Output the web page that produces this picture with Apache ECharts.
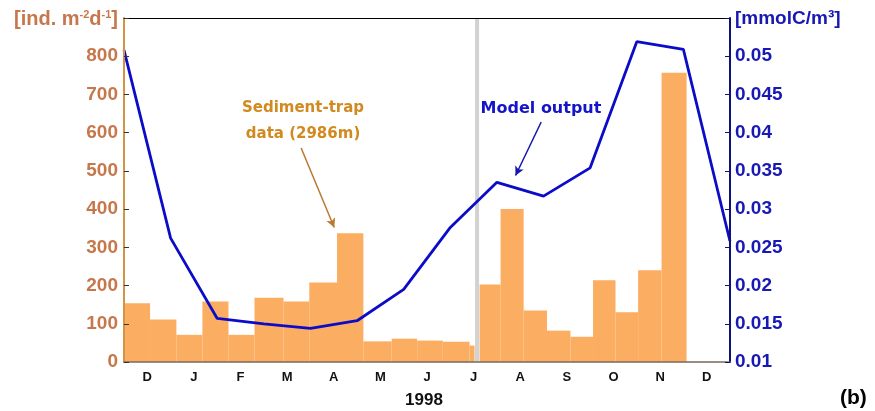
<!DOCTYPE html>
<html><head><meta charset="utf-8">
<script src="https://cdn.jsdelivr.net/npm/echarts@6/dist/echarts.min.js"></script>
<style>html,body{margin:0;padding:0;background:#fff}#c{width:875px;height:411px}</style>
</head><body><div id="c"></div>
<script>
// Month labels (Dec 1997 .. Dec 1998), one per month band
const monthLabels = ['D','J','F','M','A','M','J','J','A','S','O','N','D'];
// Sediment-trap sampling intervals (in months from 1 Dec 1997) and fluxes [ind. m-2 d-1]
const trapStart = [0, 0.559, 1.124, 1.682, 2.241, 2.800, 3.423, 3.975, 4.570, 5.135, 5.743, 6.289, 6.839, 7.413,
                   7.628, 8.079, 8.573, 9.074, 9.577, 10.062, 10.544, 11.029, 11.532];
const trapEnd   = [0.559, 1.124, 1.682, 2.241, 2.800, 3.423, 3.975, 4.570, 5.135, 5.743, 6.289, 6.839, 7.413, 7.520,
                   8.079, 8.573, 9.074, 9.577, 10.062, 10.544, 11.029, 11.532, 12.069];
const trapFlux  = [154, 111, 71, 158, 71, 168, 158, 208, 337, 54, 61, 56, 53, 43,
                   203, 400, 135, 82, 66, 214, 130, 240, 757];
// Model output [mmolC/m3] at month boundaries
const modelMonth = [0, 1, 2, 3, 4, 5, 6, 7, 8, 9, 10, 11, 12, 13];
const modelConc  = [0.0508, 0.0262, 0.0157, 0.0150, 0.0144, 0.0154, 0.0195, 0.0276, 0.0335, 0.0317, 0.0354, 0.0519, 0.0509, 0.0258];
// Gap between the two deployments
const gapMonth = [7.574];

const barData = trapStart.map((s, i) => [s, trapEnd[i], trapFlux[i]]);
const lineData = modelMonth.map((m, i) => [m, modelConc[i]]);

const chart = echarts.init(document.getElementById('c'), null, {renderer: 'canvas'});
const brown = '#c6784c';
const blue = '#1818b4';
chart.setOption({
  animation: false,
  backgroundColor: '#fff',
  grid: {left: 124, right: 145, top: 18, bottom: 49, containLabel: false, outerBoundsMode: 'none'},
  xAxis: [
    {type: 'category', data: monthLabels, position: 'bottom', boundaryGap: true, z: 10,
     axisLine: {lineStyle: {color: '#7a6a5c', width: 1.5}},
     axisTick: {inside: true, length: 5, lineStyle: {color: '#333'}},
     axisLabel: {color: '#111', fontFamily: 'Liberation Sans', fontWeight: 'bold', fontSize: 13, margin: 9},
     splitLine: {show: false}},
    {type: 'value', min: 0, max: 13, show: false, position: 'bottom'},
    {type: 'category', data: monthLabels, position: 'top', boundaryGap: true, z: 10,
     axisLine: {lineStyle: {color: '#000', width: 1}},
     axisTick: {inside: true, length: 5, lineStyle: {color: '#000'}},
     axisLabel: {show: false}, splitLine: {show: false}}
  ],
  yAxis: [
    {type: 'value', min: 0, max: 900, interval: 100, position: 'left', z: 10,
     axisLine: {show: true, lineStyle: {color: '#d39444', width: 2}},
     axisTick: {show: true, inside: true, length: 5, lineStyle: {color: '#333'}},
     axisLabel: {color: brown, fontFamily: 'Liberation Sans', fontWeight: 'bold', fontSize: 19, margin: 6,
                 formatter: v => (v >= 900 ? '' : String(v))},
     splitLine: {show: false}},
    {type: 'value', min: 0.01, max: 0.055, interval: 0.005, position: 'right', z: 10,
     axisLine: {show: true, lineStyle: {color: '#10107a', width: 2}},
     axisTick: {show: true, inside: true, length: 5, lineStyle: {color: '#10107a'}},
     axisLabel: {color: blue, fontFamily: 'Liberation Sans', fontWeight: 'bold', fontSize: 19, margin: 5,
                 formatter: v => { const r = Math.round(v * 1000) / 1000; return r >= 0.055 ? '' : String(r); }},
     splitLine: {show: false}}
  ],
  series: [
    {type: 'custom', name: 'Sediment-trap', xAxisIndex: 1, yAxisIndex: 0, z: 2,
     data: barData, encode: {x: [0, 1], y: 2},
     renderItem: (params, api) => {
       const p0 = api.coord([api.value(0), api.value(2)]);
       const p1 = api.coord([api.value(1), 0]);
       return {type: 'rect', shape: {x: p0[0], y: p0[1], width: p1[0] - p0[0], height: p1[1] - p0[1]},
               style: {fill: '#fbad62'}};
     },
     markLine: {silent: true, symbol: ['none', 'arrow'], symbolSize: [7, 9], label: {show: false},
       lineStyle: {color: '#b87a30', width: 1.5, type: 'solid'},
       data: [[{coord: [3.80, 560]}, {coord: [4.51, 352]}]]}
    },
    {type: 'custom', name: 'gap', xAxisIndex: 1, yAxisIndex: 0, z: 3,
     data: gapMonth.map(g => [g]), encode: {x: 0},
     renderItem: (params, api) => {
       const a = api.coord([api.value(0), 900]);
       const b = api.coord([api.value(0), 0]);
       return {type: 'line', shape: {x1: a[0], y1: a[1], x2: b[0], y2: b[1]},
               style: {stroke: '#d2d2d2', lineWidth: 4}};
     }},
    {type: 'line', name: 'Model output', xAxisIndex: 1, yAxisIndex: 1, z: 5,
     data: lineData, symbol: 'none', lineStyle: {color: '#0c0cc8', width: 2.8}, itemStyle: {color: '#0c0cc8'},
     markLine: {silent: true, symbol: ['none', 'arrow'], symbolSize: [7, 9], label: {show: false},
       lineStyle: {color: '#1414b0', width: 1.5, type: 'solid'},
       data: [[{coord: [8.95, 0.0414]}, {coord: [8.40, 0.0344]}]]}
    }
  ],
  graphic: [
    {type: 'text', right: 875 - 118, top: 9,
     style: {text: '{m|[ind. m}{s|-2}{m|d}{s|-1}{m|]}', fill: brown,
       rich: {m: {fontFamily: 'Liberation Sans', fontWeight: 'bold', fontSize: 20, fill: brown},
              s: {fontFamily: 'Liberation Sans', fontWeight: 'bold', fontSize: 11, fill: brown, verticalAlign: 'top', padding: [0, 0, 8, 0]}}}},
    {type: 'text', left: 735, top: 9,
     style: {text: '[mmolC/m³]', fill: blue, font: 'bold 19px "Liberation Sans"'}},
    {type: 'text', x: 303, y: 108,
     style: {text: 'Sediment-trap', fill: '#d28a20', font: 'bold 15px "DejaVu Sans"', textAlign: 'center', textVerticalAlign: 'middle'}},
    {type: 'text', x: 303, y: 134,
     style: {text: 'data (2986m)', fill: '#d28a20', font: 'bold 15px "DejaVu Sans"', textAlign: 'center', textVerticalAlign: 'middle'}},
    {type: 'text', x: 541, y: 109,
     style: {text: 'Model output', fill: '#1414c8', font: 'bold 16px "DejaVu Sans"', textAlign: 'center', textVerticalAlign: 'middle'}},
    {type: 'text', x: 424, y: 400,
     style: {text: '1998', fill: '#111', font: 'bold 17px "Liberation Sans"', textAlign: 'center', textVerticalAlign: 'middle'}},
    {type: 'text', x: 840, y: 398,
     style: {text: '(b)', fill: '#000', font: 'bold 21px "Liberation Sans"', textAlign: 'left', textVerticalAlign: 'middle'}}
  ]
});
</script>
</body></html>
